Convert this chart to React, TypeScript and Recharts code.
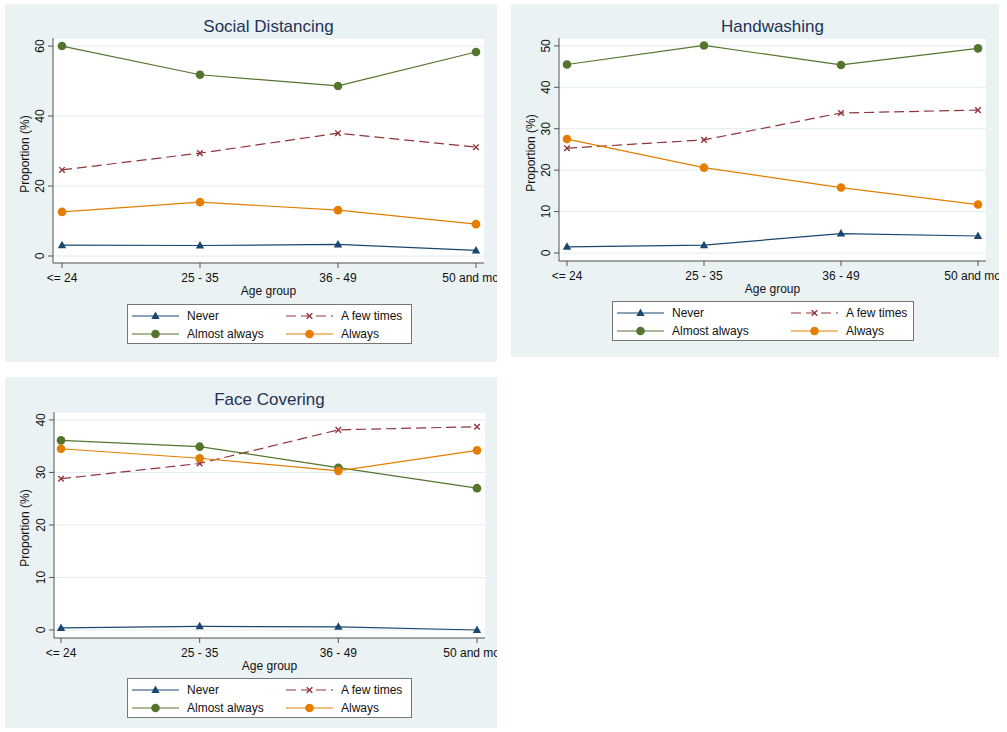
import { LineChart, Line, XAxis, YAxis, CartesianGrid } from "recharts";

const ageGroups = ["<= 24", "25 - 35", "36 - 49", "50 and more"];

// Social Distancing
const socialNever = [3.1, 3.0, 3.3, 1.6];
const socialFewTimes = [24.6, 29.4, 35.1, 31.1];
const socialAlmostAlways = [60.0, 51.8, 48.6, 58.3];
const socialAlways = [12.6, 15.4, 13.1, 9.1];
const socialTicks = [0, 20, 40, 60];

// Handwashing
const handNever = [1.5, 1.9, 4.7, 4.1];
const handFewTimes = [25.3, 27.3, 33.8, 34.5];
const handAlmostAlways = [45.5, 50.1, 45.4, 49.4];
const handAlways = [27.5, 20.6, 15.8, 11.7];
const handTicks = [0, 10, 20, 30, 40, 50];

// Face Covering
const faceNever = [0.4, 0.7, 0.6, 0.0];
const faceFewTimes = [28.8, 31.7, 38.1, 38.7];
const faceAlmostAlways = [36.1, 34.9, 30.9, 27.0];
const faceAlways = [34.5, 32.7, 30.3, 34.2];
const faceTicks = [0, 10, 20, 30, 40];

const FONT = "'Liberation Sans', Arial, Helvetica, sans-serif";
const BG = "#eaf2f3";
const AXIS = "#555";

const series = [
  { key: "never", name: "Never", color: "#1a476f", dash: undefined, marker: "triangle" },
  { key: "few", name: "A few times", color: "#90353b", dash: "10 5", marker: "x" },
  { key: "almost", name: "Almost always", color: "#55752f", dash: undefined, marker: "circle" },
  { key: "always", name: "Always", color: "#e37e00", dash: undefined, marker: "circle" },
];

function makeRows(never: number[], few: number[], almost: number[], always: number[]) {
  return ageGroups.map((age, i) => ({
    age,
    never: never[i],
    few: few[i],
    almost: almost[i],
    always: always[i],
  }));
}

function Marker({ cx, cy, shape, color }: any) {
  if (cx == null || cy == null) return null;
  if (shape === "triangle") {
    return (
      <polygon
        points={`${cx},${cy - 4.5} ${cx - 4.2},${cy + 3} ${cx + 4.2},${cy + 3}`}
        fill={color}
      />
    );
  }
  if (shape === "x") {
    const s = 2.8;
    return (
      <g stroke={color} strokeWidth={1.4}>
        <line x1={cx - s} y1={cy - s} x2={cx + s} y2={cy + s} />
        <line x1={cx - s} y1={cy + s} x2={cx + s} y2={cy - s} />
      </g>
    );
  }
  return <circle cx={cx} cy={cy} r={4.3} fill={color} />;
}

function YTick(props: any) {
  const { x, y, payload } = props;
  return (
    <text
      x={x}
      y={y}
      transform={`rotate(-90 ${x} ${y})`}
      textAnchor="middle"
      fontSize={12}
      fontFamily={FONT}
      fill="#111"
    >
      {payload.value}
    </text>
  );
}

function LegendBox({ left, top, width, col2 }: any) {
  const cells = [
    { s: series[0], col: 0, row: 0 },
    { s: series[1], col: 1, row: 0 },
    { s: series[2], col: 0, row: 1 },
    { s: series[3], col: 1, row: 1 },
  ];
  return (
    <div
      style={{
        position: "absolute",
        left,
        top,
        width,
        height: 40,
        boxSizing: "border-box",
        border: "1px solid #777",
        background: "#fff",
      }}
    >
      {cells.map(({ s, col, row }) => {
        const x0 = col === 0 ? 4 : col2;
        const cy = row === 0 ? 11 : 29;
        return (
          <div key={s.key} style={{ position: "absolute", left: x0, top: cy - 7, height: 14 }}>
            <svg width={48} height={14} style={{ position: "absolute", left: 0, top: 0 }}>
              <line
                x1={0}
                y1={7}
                x2={47}
                y2={7}
                stroke={s.color}
                strokeWidth={1.2}
                strokeDasharray={s.dash}
              />
              <Marker cx={23.5} cy={7} shape={s.marker} color={s.color} />
            </svg>
            <span
              style={{
                position: "absolute",
                left: 55,
                top: 0,
                lineHeight: "14px",
                fontSize: 12,
                fontFamily: FONT,
                color: "#111",
                whiteSpace: "nowrap",
              }}
            >
              {s.name}
            </span>
          </div>
        );
      })}
    </div>
  );
}

function Panel({ title, rows, ticks, domain, box, plot, pad, legend }: any) {
  const w = box.w;
  const h = box.h;
  const plotLeft = plot.l - box.x;
  const plotRight = box.x + w - plot.r;
  const plotTop = plot.t - box.y;
  const plotBottom = box.y + h - plot.b;
  return (
    <div
      style={{
        position: "absolute",
        left: box.x,
        top: box.y,
        width: w,
        height: h,
        background: BG,
        overflow: "hidden",
      }}
    >
      <LineChart
        width={w}
        height={h}
        data={rows}
        margin={{ top: plotTop, right: plotRight, bottom: 0, left: 0 }}
      >
        <CartesianGrid vertical={false} fill="#fff" stroke="#e3ecef" />
        <XAxis
          dataKey="age"
          interval={0}
          height={plotBottom}
          padding={{ left: pad[0], right: pad[1] }}
          tickSize={5}
          tickMargin={5}
          axisLine={{ stroke: AXIS }}
          tickLine={{ stroke: AXIS }}
          tick={{ fill: "#111", fontSize: 12, fontFamily: FONT }}
        />
        <YAxis
          type="number"
          width={plotLeft}
          domain={domain}
          ticks={ticks}
          allowDataOverflow
          tickSize={5}
          tickMargin={4}
          axisLine={{ stroke: AXIS }}
          tickLine={{ stroke: AXIS }}
          tick={<YTick />}
        />
        {series.map((s) => (
          <Line
            key={s.key}
            dataKey={s.key}
            name={s.name}
            stroke={s.color}
            strokeWidth={1.2}
            strokeDasharray={s.dash}
            isAnimationActive={false}
            dot={(p: any) => (
              <Marker key={`${s.key}-${p.index}`} cx={p.cx} cy={p.cy} shape={s.marker} color={s.color} />
            )}
            activeDot={false}
          />
        ))}
      </LineChart>
      <div
        style={{
          position: "absolute",
          left: plotLeft,
          width: w - plotLeft - plotRight,
          top: 13,
          textAlign: "center",
          fontSize: 17,
          fontFamily: FONT,
          color: "#243356",
          lineHeight: "20px",
        }}
      >
        {title}
      </div>
      <div
        style={{
          position: "absolute",
          left: 20,
          top: (plotTop + (h - plotBottom)) / 2 + 3,
          transform: "translate(-50%, -50%) rotate(-90deg)",
          fontSize: 12,
          fontFamily: FONT,
          color: "#111",
          whiteSpace: "nowrap",
        }}
      >
        Proportion (%)
      </div>
      <div
        style={{
          position: "absolute",
          left: plotLeft,
          width: w - plotLeft - plotRight,
          top: h - plotBottom + 21,
          textAlign: "center",
          fontSize: 12,
          fontFamily: FONT,
          color: "#111",
          lineHeight: "14px",
        }}
      >
        Age group
      </div>
      <LegendBox
        left={legend.x - box.x}
        top={legend.y - box.y}
        width={legend.w}
        col2={legend.col2}
      />
    </div>
  );
}

export default function App() {
  return (
    <div
      style={{
        position: "absolute",
        left: 0,
        top: 0,
        width: 1007,
        height: 732,
        background: "#fff",
        overflow: "hidden",
      }}
    >
      <Panel
        title="Social Distancing"
        rows={makeRows(socialNever, socialFewTimes, socialAlmostAlways, socialAlways)}
        ticks={socialTicks}
        domain={[-2, 62.3]}
        box={{ x: 5, y: 4, w: 492, h: 358 }}
        plot={{ l: 53, r: 484, t: 38, b: 263 }}
        pad={[9, 8]}
        legend={{ x: 127, y: 304, w: 285, col2: 158 }}
      />
      <Panel
        title="Handwashing"
        rows={makeRows(handNever, handFewTimes, handAlmostAlways, handAlways)}
        ticks={handTicks}
        domain={[-1.93, 51.9]}
        box={{ x: 511, y: 4, w: 488, h: 353 }}
        plot={{ l: 559, r: 986, t: 38, b: 261 }}
        pad={[8, 8]}
        legend={{ x: 612, y: 301, w: 302, col2: 178 }}
      />
      <Panel
        title="Face Covering"
        rows={makeRows(faceNever, faceFewTimes, faceAlmostAlways, faceAlways)}
        ticks={faceTicks}
        domain={[-1.52, 41.5]}
        box={{ x: 5, y: 377, w: 492, h: 351 }}
        plot={{ l: 54, r: 485, t: 412, b: 638 }}
        pad={[7, 8]}
        legend={{ x: 127, y: 678, w: 285, col2: 158 }}
      />
    </div>
  );
}
